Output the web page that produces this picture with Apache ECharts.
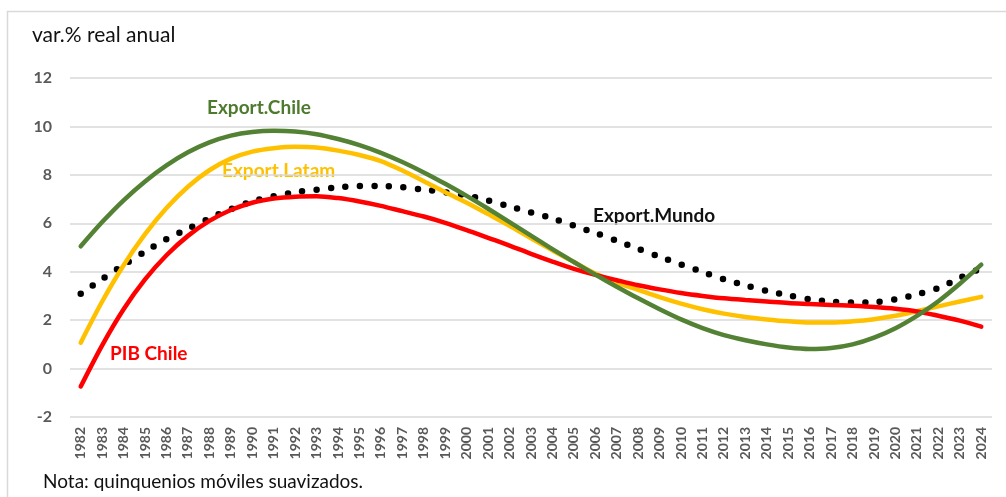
<!DOCTYPE html>
<html>
<head>
<meta charset="utf-8">
<script src="https://cdn.jsdelivr.net/npm/echarts@6/dist/echarts.min.js"></script>
<style>
    html, body { margin: 0; padding: 0; background: #fff; }
    #main { width: 1006px; height: 497px; }
</style>
</head>
<body>
<div id="main"></div>
<script>
// años 1982-2024
var years = [];
for (var y = 1982; y <= 2024; y++) { years.push(String(y)); }

// quinquenios moviles suavizados, var.% real anual
var exportChile = [5.05, 6.05, 6.95, 7.73, 8.39, 8.93, 9.34, 9.62, 9.77, 9.82,
    9.79, 9.68, 9.48, 9.23, 8.91, 8.53, 8.10, 7.63, 7.13, 6.6,
    6.05, 5.49, 4.93, 4.4, 3.88, 3.38, 2.9, 2.45, 2.03, 1.67,
    1.38, 1.17, 1.0, 0.87, 0.81, 0.85, 1.0, 1.28, 1.67, 2.18,
    2.78, 3.5, 4.29];
var exportLatam = [1.07, 2.77, 4.27, 5.55, 6.63, 7.51, 8.19, 8.67, 8.96, 9.10,
    9.16, 9.13, 9.0, 8.82, 8.57, 8.18, 7.74, 7.28, 6.85, 6.38,
    5.9, 5.38, 4.88, 4.4, 3.92, 3.55, 3.25, 2.95, 2.68, 2.45,
    2.27, 2.13, 2.03, 1.95, 1.9, 1.9, 1.95, 2.04, 2.18, 2.37,
    2.57, 2.77, 2.96];
var pibChile = [-0.74, 0.96, 2.45, 3.68, 4.68, 5.48, 6.1, 6.55, 6.85, 7.02,
    7.1, 7.12, 7.04, 6.9, 6.72, 6.5, 6.28, 6.02, 5.72, 5.4,
    5.08, 4.74, 4.42, 4.12, 3.87, 3.65, 3.44, 3.27, 3.12, 3.0,
    2.9, 2.83, 2.77, 2.71, 2.67, 2.63, 2.59, 2.54, 2.47, 2.36,
    2.18, 1.98, 1.73];
var exportMundo = [3.09, 3.69, 4.28, 4.83, 5.35, 5.77, 6.2, 6.58, 6.9, 7.12,
    7.28, 7.39, 7.49, 7.54, 7.54, 7.49, 7.39, 7.28, 7.15, 6.94,
    6.7, 6.45, 6.2, 5.9, 5.6, 5.28, 4.95, 4.62, 4.3, 3.99,
    3.69, 3.44, 3.21, 3.02, 2.86, 2.76, 2.73, 2.74, 2.86, 3.06,
    3.33, 3.74, 4.15];

var fontName = "Lato, 'Open Sans', sans-serif";

var chart = echarts.init(document.getElementById("main"), null, { renderer: "canvas" });
var option = {
    backgroundColor: "#fff",
    animation: false,
    textStyle: { fontFamily: fontName },
    grid: {
        left: 70,
        right: 14,
        top: 78,
        bottom: 80
    },
    xAxis: {
        type: "category",
        data: years,
        boundaryGap: true,
        axisLine: { show: false },
        axisTick: { show: false },
        axisLabel: {
            interval: 0,
            rotate: 90,
            margin: 10,
            color: "#595959",
            fontWeight: "bold",
            fontSize: 14,
            fontFamily: fontName
        }
    },
    yAxis: {
        type: "value",
        min: -2,
        max: 12,
        interval: 2,
        axisLine: { show: false },
        axisTick: { show: false },
        axisLabel: {
            margin: 18,
            color: "#595959",
            fontWeight: "bold",
            fontSize: 16,
            fontFamily: fontName
        },
        splitLine: { lineStyle: { color: "#d9d9d9", width: 1.5 } }
    },
    series: [
        {
            name: "Export.Mundo",
            type: "line",
            data: exportMundo,
            smooth: 0.3,
            showSymbol: false,
            lineStyle: { color: "#000", width: 6.5, type: [0, 14.5], cap: "round" }
        },
        {
            name: "Export.Latam",
            type: "line",
            data: exportLatam,
            smooth: 0.3,
            showSymbol: false,
            lineStyle: { color: "#FFC000", width: 4.5, cap: "round" }
        },
        {
            name: "PIB Chile",
            type: "line",
            data: pibChile,
            smooth: 0.3,
            showSymbol: false,
            lineStyle: { color: "#FF0000", width: 4.5, cap: "round" }
        },
        {
            name: "Export.Chile",
            type: "line",
            data: exportChile,
            smooth: 0.3,
            showSymbol: false,
            lineStyle: { color: "#548235", width: 4.5, cap: "round" }
        }
    ],
    graphic: [
        { // marco
            type: "rect",
            silent: true,
            shape: { x: 7.5, y: 11.5, width: 1010, height: 500 },
            style: { fill: null, stroke: "#d9d9d9", lineWidth: 1.5 }
        },
        {
            type: "text", left: 32, top: 25,
            style: { text: "var.% real anual", fill: "#111", font: "21px " + fontName }
        },
        {
            type: "text", left: 43, top: 472,
            style: { text: "Nota: quinquenios móviles suavizados.", fill: "#111", font: "19px " + fontName }
        },
        {
            type: "text", left: 207, top: 98,
            style: { text: "Export.Chile", fill: "#4E7A2D", font: "bold 19px " + fontName }
        },
        {
            type: "text", left: 222, top: 161,
            style: { text: "Export.Latam", fill: "#FFC000", font: "bold 19px " + fontName }
        },
        {
            type: "text", left: 593, top: 206,
            style: { text: "Export.Mundo", fill: "#111", font: "bold 19px " + fontName }
        },
        {
            type: "text", left: 110, top: 344,
            style: { text: "PIB Chile", fill: "#FF0000", font: "bold 19px " + fontName }
        }
    ]
};
chart.setOption(option);
</script>
</body>
</html>
